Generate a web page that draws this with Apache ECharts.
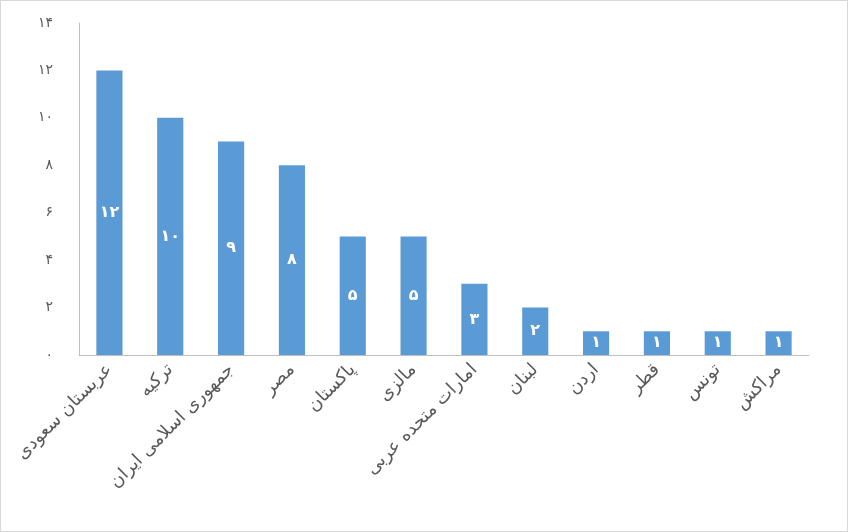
<!DOCTYPE html>
<html><head><meta charset="utf-8">
<script src="https://cdn.jsdelivr.net/npm/echarts@6/dist/echarts.min.js"></script>
<style>html,body{margin:0;padding:0;background:#fff}#c{width:846px;height:530px;border:1px solid #d9d9d9}</style>
</head><body><div id="c"></div>
<script>
const categories = ["عربستان سعودی","ترکیه","جمهوری اسلامی ایران","مصر","پاکستان","مالزی","امارات متحده عربی","لبنان","اردن","قطر","تونس","مراکش"];
const values = [12,10,9,8,5,5,3,2,1,1,1,1];
const fa = n => String(n).replace(/\d/g, d => "۰۱۲۳۴۵۶۷۸۹"[d]);
const chart = echarts.init(document.getElementById('c'));
chart.setOption({
  animation:false,
  grid:{left:78,right:38,top:22,bottom:176},
  xAxis:{type:'category',data:categories,
    axisLine:{lineStyle:{color:'#bfbfbf'}},axisTick:{show:false},
    axisLabel:{rotate:45,interval:0,color:'#595959',fontSize:18,fontFamily:'DejaVu Sans',margin:12}},
  yAxis:{type:'value',min:0,max:14,interval:2,
    axisLine:{show:true,lineStyle:{color:'#bfbfbf'}},splitLine:{show:false},
    axisLabel:{color:'#595959',fontSize:14,fontFamily:'DejaVu Sans',margin:26,formatter:v=>fa(v)}},
  series:[{type:'bar',data:values,barWidth:'43%',itemStyle:{color:'#5B9BD5'},
    label:{show:true,position:'inside',color:'#fff',fontWeight:'bold',fontSize:16,fontFamily:'DejaVu Sans',formatter:p=>fa(p.value)}}]
});
</script></body></html>
